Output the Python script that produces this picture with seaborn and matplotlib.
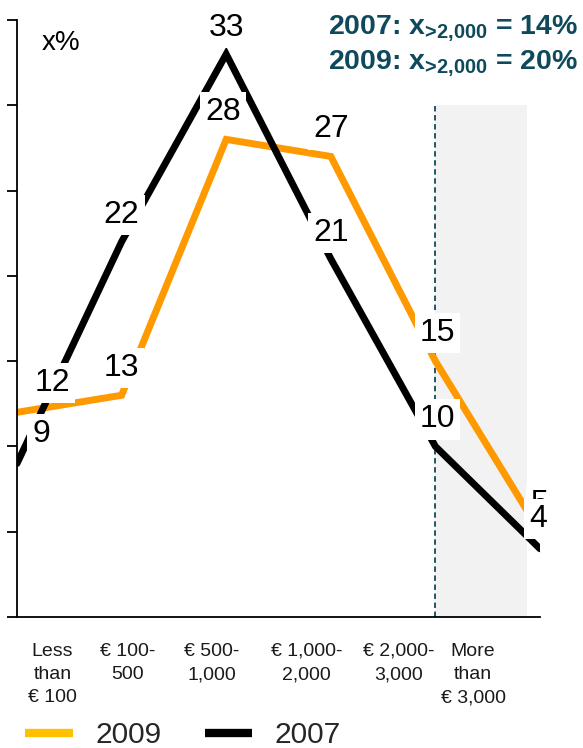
import matplotlib
matplotlib.use("Agg")
import matplotlib.pyplot as plt
from matplotlib.lines import Line2D
import numpy as np
import pandas as pd
import seaborn as sns

# Monthly spending brackets and the share of respondents (%) in each
categories = ["Less\nthan\n€ 100", "€ 100-\n500", "€ 500-\n1,000",
              "€ 1,000-\n2,000", "€ 2,000-\n3,000", "More\nthan\n€ 3,000"]
share_2009 = [12, 13, 28, 27, 15, 5]
share_2007 = [9, 22, 33, 21, 10, 4]
years = ["2009", "2007"]
summary_lines = [r"2007: x$_{\text{>2,000}}$ = 14%",
                 r"2009: x$_{\text{>2,000}}$ = 20%"]

# layout: where each category caption sits along the axis, and label nudges (px)
caption_pos = [0.34, 1.06, 1.86, 2.77, 3.65, 4.36]
nudge_2009 = [(35, 29), (0, 27), (-3, 27), (0, 27), (2, 28), (0, 28)]
nudge_2007 = [(24, 29), (0, 27), (0, 26), (0, 26), (2, 27), (-2, 30)]

sns.set_theme(style="white")
plt.rcParams["font.family"] = ["Liberation Sans", "DejaVu Sans"]
plt.rcParams["mathtext.fontset"] = "custom"
plt.rcParams["mathtext.rm"] = "Liberation Sans:bold"
plt.rcParams["mathtext.bf"] = "Liberation Sans:bold"
plt.rcParams["mathtext.it"] = "Liberation Sans:bold"
plt.rcParams["mathtext.default"] = "bf"

line_colors = {"2009": "#ff9900", "2007": "#000000"}
legend_colors = {"2009": "#ffc000", "2007": "#000000"}
teal = "#0e4a5c"

df = pd.DataFrame({
    "pos": list(range(len(categories))) * 2,
    "share": share_2009 + share_2007,
    "year": ["2009"] * len(share_2009) + ["2007"] * len(share_2007),
})

fig = plt.figure(figsize=(5.83, 7.48), dpi=100)
ax = fig.add_axes([17 / 583, 131 / 748, 523 / 583, 597 / 748])

# highlighted top brackets
ax.axvspan(4, 4.876, ymin=0, ymax=30 / 35, color="#f2f2f2", zorder=0, lw=0)
ax.vlines(4, 0, 30, colors=teal, linestyles=(0, (3, 2)), lw=1.3, zorder=1)

sns.lineplot(data=df, x="pos", y="share", hue="year", hue_order=years,
             palette=line_colors, linewidth=5, legend=False, ax=ax,
             estimator=None, sort=False, zorder=2)
for ln in ax.lines:
    ln.set_solid_capstyle("round")
    ln.set_solid_joinstyle("miter")

px = 0.72
for vals, nudges in ((share_2009, nudge_2009), (share_2007, nudge_2007)):
    for i, (v, (dx, dy)) in enumerate(zip(vals, nudges)):
        ax.annotate(str(v), (i, v), xytext=(dx * px, dy * px),
                    textcoords="offset points", ha="center", va="center",
                    fontsize=23, color="black", zorder=5,
                    bbox=dict(boxstyle="square,pad=0.16", fc="white", ec="none"))

ax.set_xlim(0, 5)
ax.set_ylim(0, 35)
ax.set_yticks(np.arange(0, 36, 5))
ax.set_yticklabels([])
ax.set_xticks([])
# bracket captions under the axis
xaxis_tf = ax.get_xaxis_transform()
for pos, cat in zip(caption_pos, categories):
    ax.text(pos, -26 / 597, cat, transform=xaxis_tf, ha="center", va="top",
            fontsize=14, color="#1a1a1a", linespacing=1.48, clip_on=False)
ax.tick_params(axis="y", length=7, width=1.3, color="black", direction="out", left=True)
ax.set_xlabel("")
ax.set_ylabel("")
for side in ("top", "right"):
    ax.spines[side].set_visible(False)
for side in ("left", "bottom"):
    ax.spines[side].set_color("black")
    ax.spines[side].set_linewidth(1.3)

ax.text(25 / 523, (748 - 43 - 131) / 597, "x%", transform=ax.transAxes,
        fontsize=20, ha="left", va="center", color="black")

for k, s in enumerate(summary_lines):
    fig.text(578 / 583, 1 - (28 + 35 * k) / 748, s, ha="right", va="center",
             fontsize=20.5, fontweight="bold", color=teal)

handles = [Line2D([], [], color=legend_colors[y], lw=6, solid_capstyle="butt")
           for y in years]
fig.legend(handles, years, loc="center left",
           bbox_to_anchor=(25 / 583, 1 - 735 / 748), ncol=2, frameon=False,
           fontsize=21.5, handlelength=1.6, handletextpad=0.75, columnspacing=1.45,
           borderpad=0, borderaxespad=0)

fig.savefig("out.png", dpi=100)
